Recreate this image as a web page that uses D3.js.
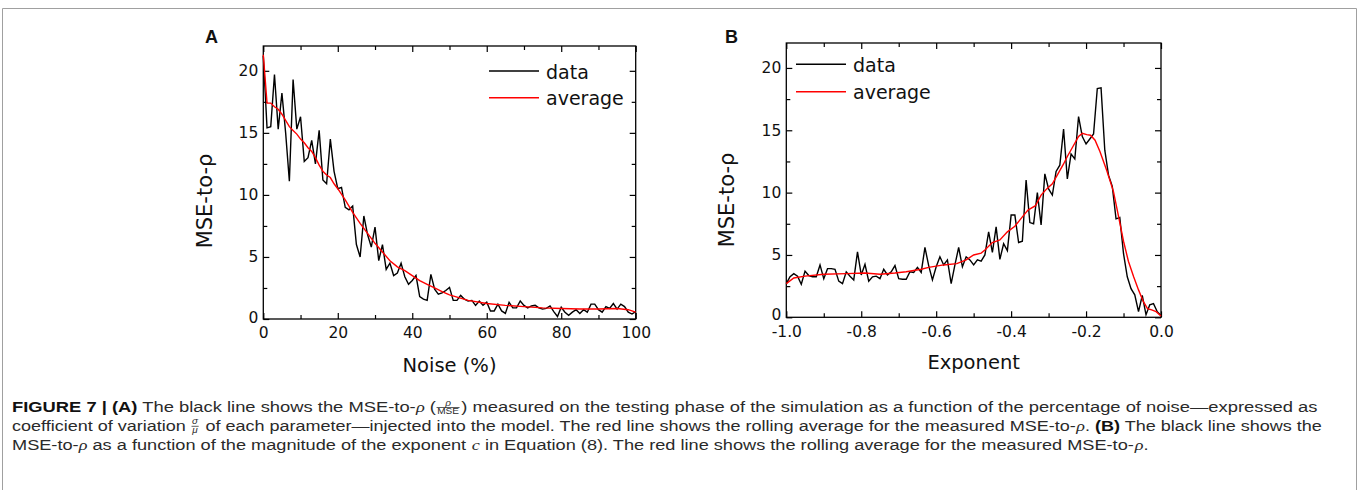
<!DOCTYPE html>
<html>
<head>
<meta charset="utf-8">
<script src="https://cdn.jsdelivr.net/npm/d3@7"></script>
<style>
  body { margin: 0; background: #fff; }
  svg { display: block; }
</style>
</head>
<body>
<div id="chartSection"></div>
<script>
// ---- panel A: MSE-to-rho vs noise (%)
var noiseA = [0,1,2,3,4,5,6,7,8,9,10,11,12,13,14,15,16,17,18,19,20,21,22,23,24,25,26,27,28,29,30,
  31,32,33,34,35,36,37,38,39,40,41,42,43,44,45,46,47,48,49,50,51,52,53,54,55,56,57,58,59,60,
  61,62,63,64,65,66,67,68,69,70,71,72,73,74,75,76,77,78,79,80,81,82,83,84,85,86,87,88,89,90,
  91,92,93,94,95,96,97,98,99,100];
var dataA = [21.2,15.4,15.5,19.7,15.3,18.2,15.0,11.1,19.3,15.3,16.3,12.7,13.0,14.4,12.5,15.2,11.2,10.9,14.5,11.9,
  10.5,10.6,9.0,8.8,9.1,6.0,5.0,8.3,6.8,5.8,7.4,4.7,6.0,4.0,4.5,3.5,3.7,4.5,3.4,2.8,
  3.1,3.5,1.8,1.6,1.5,3.6,2.4,2.0,2.1,2.3,2.55,1.5,1.5,1.9,1.6,1.45,1.5,1.1,1.45,1.1,
  1.35,0.65,0.65,1.2,0.65,0.45,1.35,0.9,0.9,1.45,1.1,0.9,1.05,1.1,0.9,0.8,0.85,1.05,0.6,0.2,
  0.95,0.55,0.3,0.55,0.75,0.45,0.75,0.55,1.2,1.2,0.75,0.55,1.0,0.85,1.25,0.8,1.2,1.0,0.55,0.4,0.6];
var avgNoiseA = [0,1,2,3,4,5,6,7,8,9,10,11,12,13,14,15,16,17,18,19,20,22,24,26,28,30,32,34,36,38,40,
  42,44,46,48,50,55,60,65,70,75,80,85,90,95,98,100];
var avgA = [21.3,17.4,17.4,17.1,16.9,16.5,16.0,15.5,15.2,14.9,14.5,14.2,13.8,13.5,13.0,12.4,11.9,11.6,11.4,10.9,
  10.5,9.6,8.6,7.7,6.9,6.1,5.4,4.7,4.2,3.9,3.5,3.1,2.8,2.5,2.2,1.95,1.5,1.25,1.1,1.0,0.9,0.85,0.8,0.8,0.85,0.75,0.55];

// ---- panel B: MSE-to-rho vs exponent
var exponentB = [-1.00,-0.99,-0.98,-0.97,-0.96,-0.95,-0.94,-0.93,-0.92,-0.91,-0.90,-0.89,-0.88,-0.87,-0.86,
  -0.85,-0.84,-0.83,-0.82,-0.81,-0.80,-0.79,-0.78,-0.77,-0.76,-0.75,-0.74,-0.73,-0.72,-0.71,-0.70,
  -0.69,-0.68,-0.67,-0.66,-0.65,-0.64,-0.63,-0.62,-0.61,-0.60,-0.59,-0.58,-0.57,-0.56,-0.55,-0.54,
  -0.53,-0.52,-0.51,-0.50,-0.49,-0.48,-0.47,-0.46,-0.45,-0.44,-0.43,-0.42,-0.41,-0.40,-0.39,-0.38,
  -0.37,-0.36,-0.35,-0.34,-0.33,-0.32,-0.31,-0.30,-0.29,-0.28,-0.27,-0.26,-0.25,-0.24,-0.23,-0.22,
  -0.21,-0.20,-0.19,-0.18,-0.17,-0.16,-0.15,-0.14,-0.13,-0.12,-0.11,-0.10,-0.09,-0.08,-0.07,-0.06,
  -0.05,-0.04,-0.03,-0.02,-0.01,0.00];
var dataB = [2.7,3.25,3.5,3.3,2.65,3.7,3.35,3.25,3.25,4.2,3.1,3.9,3.9,3.85,2.9,2.7,3.65,3.3,3.0,5.25,
  3.4,4.25,2.9,3.25,3.3,3.1,3.85,3.4,3.65,4.15,3.1,3.05,3.05,3.65,3.6,4.0,3.6,5.6,4.15,3.0,
  4.05,4.85,4.2,4.6,2.7,4.2,5.6,4.05,4.85,4.6,4.2,4.6,4.5,5.0,6.85,5.2,7.25,4.65,5.9,5.35,
  8.2,8.2,6.0,6.1,11.0,7.6,7.5,10.0,7.4,11.5,10.3,9.8,11.7,12.2,15.1,11.1,13.1,12.7,16.1,14.5,
  13.9,14.3,14.7,18.35,18.4,13.4,11.4,10.5,7.9,8.0,5.1,3.25,2.3,1.8,0.45,1.75,0.2,1.0,1.1,0.45,0.15];
var avgExponentB = [-1.0,-0.98,-0.95,-0.90,-0.84,-0.79,-0.75,-0.71,-0.68,-0.64,-0.62,-0.58,-0.545,-0.52,-0.50,
  -0.48,-0.47,-0.45,-0.43,-0.41,-0.39,-0.37,-0.355,-0.335,-0.32,-0.305,-0.29,-0.275,-0.26,-0.25,-0.235,
  -0.22,-0.21,-0.198,-0.188,-0.176,-0.163,-0.145,-0.127,-0.114,-0.10,-0.087,-0.073,-0.06,-0.047,-0.036,
  -0.025,-0.013,0.0];
var avgB = [2.7,3.15,3.3,3.45,3.5,3.55,3.45,3.55,3.65,3.85,4.0,4.2,4.3,4.6,5.0,
  5.15,5.4,6.0,6.2,6.85,7.3,8.05,8.6,8.95,9.8,10.3,10.7,11.5,12.3,12.9,13.7,
  14.5,14.75,14.65,14.6,14.2,13.3,11.8,10.1,8.2,6.1,4.5,3.25,2.2,1.25,0.7,
  0.6,0.45,0.1];

// ticks
var yMajor = [0, 5, 10, 15, 20];
var yMinor = [2.5, 7.5, 12.5, 17.5];
var xMajorA = [0, 20, 40, 60, 80, 100];
var xMinorA = [10, 30, 50, 70, 90];
var xMajorB = [-1.0, -0.8, -0.6, -0.4, -0.2, 0.0];
var xMinorB = [-0.9, -0.7, -0.5, -0.3, -0.1];
var legendNames = ["data", "average"];

var width = 1360, height = 490;
var svg = d3.select("#chartSection").append("svg")
    .attr("width", width).attr("height", height);

// light frame around the figure
svg.append("path")
    .attr("d", "M2.5,490V8.5H1356.5V490")
    .attr("fill", "none").attr("stroke", "#a0a0a0").attr("stroke-width", 1);

var tickFont = "'DejaVu Sans', sans-serif";

function drawPanel(p) {
    var x = d3.scaleLinear().domain(p.xDomain).range([p.left, p.right]);
    var y = d3.scaleLinear().domain([0, 22]).range([p.bottom, p.top]);
    var g = svg.append("g");

    function styleAxis(a) {
        a.select(".domain").remove();
        a.selectAll("line").attr("stroke", "#000").attr("stroke-width", 1.2);
        a.selectAll("text").attr("font-family", tickFont).attr("font-size", 15.5).attr("fill", "#111");
    }

    // bottom + top
    g.append("g").attr("transform", "translate(0," + p.bottom + ")")
        .call(d3.axisBottom(x).tickValues(p.xMajor).tickFormat(p.xFormat)
            .tickSizeInner(-6).tickSizeOuter(0).tickPadding(p.xPad))
        .call(styleAxis);
    g.append("g").attr("transform", "translate(0," + p.bottom + ")")
        .call(d3.axisBottom(x).tickValues(p.xMinor).tickFormat("").tickSizeInner(-4).tickSizeOuter(0))
        .call(styleAxis);
    g.append("g").attr("transform", "translate(0," + p.top + ")")
        .call(d3.axisTop(x).tickValues(p.xMajor).tickFormat("").tickSizeInner(-6).tickSizeOuter(0))
        .call(styleAxis);
    g.append("g").attr("transform", "translate(0," + p.top + ")")
        .call(d3.axisTop(x).tickValues(p.xMinor).tickFormat("").tickSizeInner(-4).tickSizeOuter(0))
        .call(styleAxis);

    // left + right
    var yAx = g.append("g").attr("transform", "translate(" + p.left + ",0)")
        .call(d3.axisLeft(y).tickValues(yMajor).tickFormat(d3.format("d"))
            .tickSizeInner(-6).tickSizeOuter(0).tickPadding(5))
        .call(styleAxis);
    // keep the "0" clear of the first x tick label
    yAx.selectAll(".tick text").filter(d => d === 0)
        .attr("y", p.zeroShift);
    g.append("g").attr("transform", "translate(" + p.left + ",0)")
        .call(d3.axisLeft(y).tickValues(yMinor).tickFormat("").tickSizeInner(-4).tickSizeOuter(0))
        .call(styleAxis);
    g.append("g").attr("transform", "translate(" + p.right + ",0)")
        .call(d3.axisRight(y).tickValues(yMajor).tickFormat("").tickSizeInner(-6).tickSizeOuter(0))
        .call(styleAxis);
    g.append("g").attr("transform", "translate(" + p.right + ",0)")
        .call(d3.axisRight(y).tickValues(yMinor).tickFormat("").tickSizeInner(-4).tickSizeOuter(0))
        .call(styleAxis);

    // frame
    g.append("rect")
        .attr("x", p.left).attr("y", p.top)
        .attr("width", p.right - p.left).attr("height", p.bottom - p.top)
        .attr("fill", "none").attr("stroke", "#000").attr("stroke-width", 1.3);

    var line = d3.line().x(d => x(d[0])).y(d => y(d[1]));

    g.append("path")
        .datum(d3.zip(p.xs, p.ys))
        .attr("d", line)
        .attr("fill", "none").attr("stroke", "#000").attr("stroke-width", 1.4)
        .attr("stroke-linejoin", "miter");
    g.append("path")
        .datum(d3.zip(p.avgXs, p.avgYs))
        .attr("d", line)
        .attr("fill", "none").attr("stroke", "#ff0000").attr("stroke-width", 1.4);

    // legend
    var colors = ["#000", "#ff0000"];
    legendNames.forEach(function(name, i) {
        var ly = p.legendY[i];
        g.append("line")
            .attr("x1", p.legendX).attr("x2", p.legendX + 50)
            .attr("y1", ly).attr("y2", ly)
            .attr("stroke", colors[i]).attr("stroke-width", 1.4);
        g.append("text")
            .attr("x", p.legendX + 57).attr("y", ly + 7.5)
            .attr("font-family", tickFont).attr("font-size", 19).attr("fill", "#111")
            .text(name);
    });

    // axis titles
    g.append("text")
        .attr("x", (p.left + p.right) / 2).attr("y", p.xTitleY)
        .attr("text-anchor", "middle")
        .attr("font-family", tickFont).attr("font-size", 19.5).attr("fill", "#111")
        .text(p.xTitle);
    g.append("text")
        .attr("transform", "translate(" + p.yTitleX + "," + p.yTitleY + ") rotate(-90)")
        .attr("text-anchor", "middle")
        .attr("font-family", tickFont).attr("font-size", 21).attr("fill", "#111")
        .text("MSE-to-ρ");

    // panel letter
    g.append("text")
        .attr("x", p.letterX).attr("y", 42.7)
        .attr("font-family", "'Liberation Sans', Arial, sans-serif")
        .attr("font-weight", "bold").attr("font-size", 18).attr("fill", "#111")
        .text(p.letter);
}

drawPanel({
    left: 263.3, right: 635.7, top: 46, bottom: 319,
    xDomain: [0, 100], xMajor: xMajorA, xMinor: xMinorA,
    xFormat: d3.format("d"), xPad: 7.5, zeroShift: -1,
    xs: noiseA, ys: dataA, avgXs: avgNoiseA, avgYs: avgA,
    legendX: 489, legendY: [71, 97.7],
    xTitle: "Noise (%)", xTitleY: 371.7,
    yTitleX: 212, yTitleY: 201,
    letter: "A", letterX: 205
});

drawPanel({
    left: 786.3, right: 1161, top: 43, bottom: 317.3,
    xDomain: [-1, 0], xMajor: xMajorB, xMinor: xMinorB,
    xFormat: d => d.toFixed(1), xPad: 8.5, zeroShift: -2.7,
    xs: exponentB, ys: dataB, avgXs: avgExponentB, avgYs: avgB,
    legendX: 796, legendY: [64.3, 91.7],
    xTitle: "Exponent", xTitleY: 369.3,
    yTitleX: 733.6, yTitleY: 200,
    letter: "B", letterX: 725
});

// ---- caption
var captionLines = [
    [{t: "FIGURE 7 | (A)", b: 1}, {t: " The black line shows the MSE-to-"}, {t: "ρ", it: 1}, {t: " ("},
     {num: "ρ", den: "MSE"},
     {t: ") measured on the testing phase of the simulation as a function of the percentage of noise—expressed as"}],
    [{t: "coefficient of variation "}, {num: "σ", den: "μ", denIt: 1},
     {t: " of each parameter—injected into the model. The red line shows the rolling average for the measured MSE-to-"},
     {t: "ρ", it: 1}, {t: ". "}, {t: "(B)", b: 1}, {t: " The black line shows the"}],
    [{t: "MSE-to-"}, {t: "ρ", it: 1}, {t: " as a function of the magnitude of the exponent "}, {t: "c", it: 1},
     {t: " in Equation (8). The red line shows the rolling average for the measured MSE-to-"}, {t: "ρ", it: 1}, {t: "."}]
];
var captionBaselines = [412, 430.8, 449.6];
var captionTargets = [1306, 1310];
var capFont = "'Liberation Sans', Arial, sans-serif";
var capColor = "#2a2a2a";

var capGroups = captionLines.map(function(segs, li) {
    var g = svg.append("g");
    var inner = g.append("g");
    var cx = 0;
    segs.forEach(function(s) {
        if (s.num) {
            var n = inner.append("text").attr("y", -6.5)
                .attr("font-family", capFont).attr("font-size", 8.5).attr("font-style", "italic")
                .attr("fill", capColor).text(s.num);
            var dd = inner.append("text").attr("y", 2)
                .attr("font-family", capFont).attr("font-size", 8.5)
                .attr("font-style", s.denIt ? "italic" : "normal")
                .attr("fill", capColor).text(s.den);
            var wn = n.node().getComputedTextLength();
            var wd = dd.node().getComputedTextLength();
            var w = Math.max(wn, wd) + 1;
            n.attr("x", cx + 1 + (w - 1 - wn) / 2);
            dd.attr("x", cx + 1 + (w - 1 - wd) / 2);
            inner.append("line")
                .attr("x1", cx + 0.5).attr("x2", cx + w + 0.5)
                .attr("y1", -4.5).attr("y2", -4.5)
                .attr("stroke", capColor).attr("stroke-width", 0.7);
            cx += w + 2;
        } else {
            var t = inner.append("text").attr("x", cx).attr("y", 0)
                .style("white-space", "pre")
                .attr("font-family", s.it ? "'Liberation Serif', serif" : capFont)
                .attr("font-size", 15.5)
                .attr("font-weight", s.b ? "bold" : "normal")
                .attr("font-style", s.it ? "italic" : "normal")
                .attr("fill", s.b ? "#111" : capColor)
                .text(s.t);
            cx += t.node().getComputedTextLength();
        }
    });
    return {g: g, inner: inner, w: cx};
});

var scales = capGroups.slice(0, 2).map((c, i) => captionTargets[i] / c.w);
var meanScale = d3.mean(scales);
capGroups.forEach(function(c, i) {
    var sx = i < 2 ? scales[i] : meanScale;
    c.g.attr("transform", "translate(12," + captionBaselines[i] + ") scale(" + sx + ",1)");
});
</script>
</body>
</html>
